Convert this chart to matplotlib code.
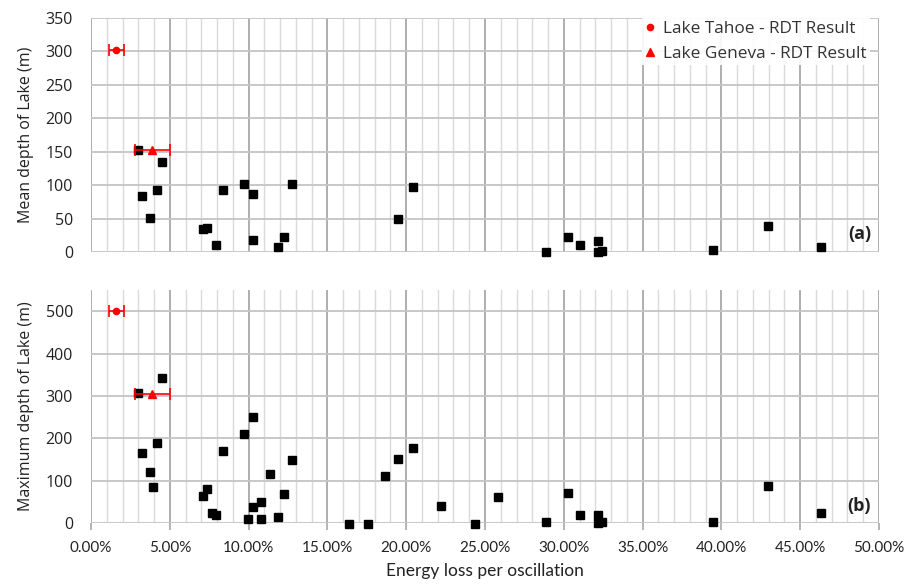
import matplotlib
matplotlib.use("Agg")
import matplotlib.pyplot as plt
from matplotlib.ticker import MultipleLocator, FuncFormatter
from matplotlib.lines import Line2D

# ---------------- data (energy loss in %, depths in m) ----------------
mean_loss = [2.96, 4.5, 3.21, 4.17, 3.77, 8.4, 9.69, 10.26, 12.75, 7.13, 7.38, 7.93,
             10.26, 12.27, 11.87, 19.48, 20.45, 28.9, 30.27, 31.0, 32.2, 32.2, 32.4,
             39.45, 42.98, 46.3]
mean_depth = [153, 134, 83.5, 93, 51, 93, 102, 87, 102, 34.5, 36, 11,
              17.5, 23, 7.5, 49, 96.5, 0, 22.5, 11, 17, 0, 2,
              2.5, 39.5, 7.5]

max_loss = [2.96, 4.5, 3.21, 4.17, 3.77, 3.95, 8.4, 9.69, 10.26, 12.75, 7.13, 7.38,
            7.68, 7.93, 9.94, 10.26, 10.8, 10.8, 11.38, 12.27, 11.87, 16.37, 17.55,
            18.67, 19.48, 20.45, 22.2, 24.35, 25.8, 28.9, 30.27, 31.0, 32.2, 32.2,
            32.4, 39.45, 42.98, 46.3]
max_depth = [307, 343, 166, 188, 121, 85, 169, 211, 250, 148, 64, 80,
             23, 19, 10, 38, 50, 10, 115, 68, 14, -3, -3,
             110, 152, 178, 41, -3, 62, 2.5, 71, 20, 20, 0,
             3, 2.5, 88, 23]

tahoe_loss, tahoe_err = 1.6, 0.47
tahoe_mean, tahoe_max = 302, 500
geneva_loss, geneva_err = 3.9, 1.1
geneva_mean, geneva_max = 152, 305

# ---------------- figure ----------------
W, H = 915, 584
fig = plt.figure(figsize=(W / 100, H / 100), dpi=100)
fig.patch.set_facecolor("white")

def px_axes(left, top, right, bottom):
    return fig.add_axes([left / W, 1 - bottom / H, (right - left) / W, (bottom - top) / H])

ax1 = px_axes(91, 18, 879, 252)
ax2 = px_axes(91, 290, 879, 523)

RED = "#ff0000"
MAJ = "#a8a8a8"
MIN = "#dadada"
HOR = "#c4c4c4"

def style(ax, ymax, yticks, ylabel, tag, show_x):
    ax.set_xlim(0, 50)
    ax.set_ylim(0, ymax)
    ax.xaxis.set_major_locator(MultipleLocator(5))
    ax.xaxis.set_minor_locator(MultipleLocator(1))
    ax.set_yticks(yticks)
    for s in ax.spines.values():
        s.set_visible(False)
    ax.set_axisbelow(True)
    ax.grid(which="minor", axis="x", color=MIN, lw=1.0)
    ax.grid(which="major", axis="x", color=MAJ, lw=1.3)
    ax.grid(which="major", axis="y", color=HOR, lw=1.3)
    ax.tick_params(axis="y", length=0, pad=13)
    ax.tick_params(axis="x", which="minor", length=0)
    for lab in ax.get_yticklabels():
        lab.set_fontfamily("Open Sans")
        lab.set_fontsize(11.5)
        lab.set_color("#222222")
    if show_x:
        ax.tick_params(axis="x", which="major", length=5, color=MAJ, width=1.2, pad=8)
        ax.xaxis.set_major_formatter(FuncFormatter(lambda v, p: f"{v:.2f}%"))
        for lab in ax.get_xticklabels():
            lab.set_fontfamily("Lato")
            lab.set_fontsize(11)
            lab.set_color("#222222")
    else:
        ax.tick_params(axis="x", which="major", length=0, labelbottom=False)
    ax.set_ylabel(ylabel, fontfamily="Open Sans", fontsize=11.5, color="#222222", labelpad=8)
    ax.text(0.99, 0.075, tag, transform=ax.transAxes, ha="right", va="center",
            fontsize=13, fontweight="bold", fontfamily="Open Sans", color="#222222")

style(ax1, 350, [0, 50, 100, 150, 200, 250, 300, 350], "Mean depth of Lake (m)", "(a)", False)
style(ax2, 550, [0, 100, 200, 300, 400, 500], "Maximum depth of Lake (m)", "(b)", True)
ax2.set_xlabel("Energy loss per oscillation", fontfamily="Lato", fontsize=12.5,
               color="#222222", labelpad=6)

for ax, xs, ys, ty, gy in [(ax1, mean_loss, mean_depth, tahoe_mean, geneva_mean),
                           (ax2, max_loss, max_depth, tahoe_max, geneva_max)]:
    ax.plot(xs, ys, ls="none", marker="s", ms=5.2, color="black", zorder=3, clip_on=False)
    ax.errorbar([tahoe_loss], [ty], xerr=[tahoe_err], fmt="o", ms=4.5, color=RED,
                ecolor=RED, elinewidth=1.2, capsize=4.5, capthick=1.2, zorder=4, clip_on=False)
    ax.errorbar([geneva_loss], [gy], xerr=[geneva_err], fmt="^", ms=6, color=RED,
                ecolor=RED, elinewidth=1.2, capsize=4.5, capthick=1.2, zorder=4, clip_on=False)

handles = [Line2D([], [], ls="none", marker="o", ms=4.5, color=RED),
           Line2D([], [], ls="none", marker="^", ms=6, color=RED)]
leg = ax1.legend(handles, ["Lake Tahoe - RDT Result", "Lake Geneva - RDT Result"],
                 loc="upper right", bbox_to_anchor=(0.988, 1.0), borderaxespad=0.0,
                 frameon=True, fancybox=False, framealpha=0.9, edgecolor="none",
                 handlelength=0.6, handletextpad=0.5, labelspacing=0.55,
                 borderpad=0.15, prop=dict(family="Open Sans", size=12.4))
for t in leg.get_texts():
    t.set_color("#333333")

fig.savefig("out.png", dpi=100)
